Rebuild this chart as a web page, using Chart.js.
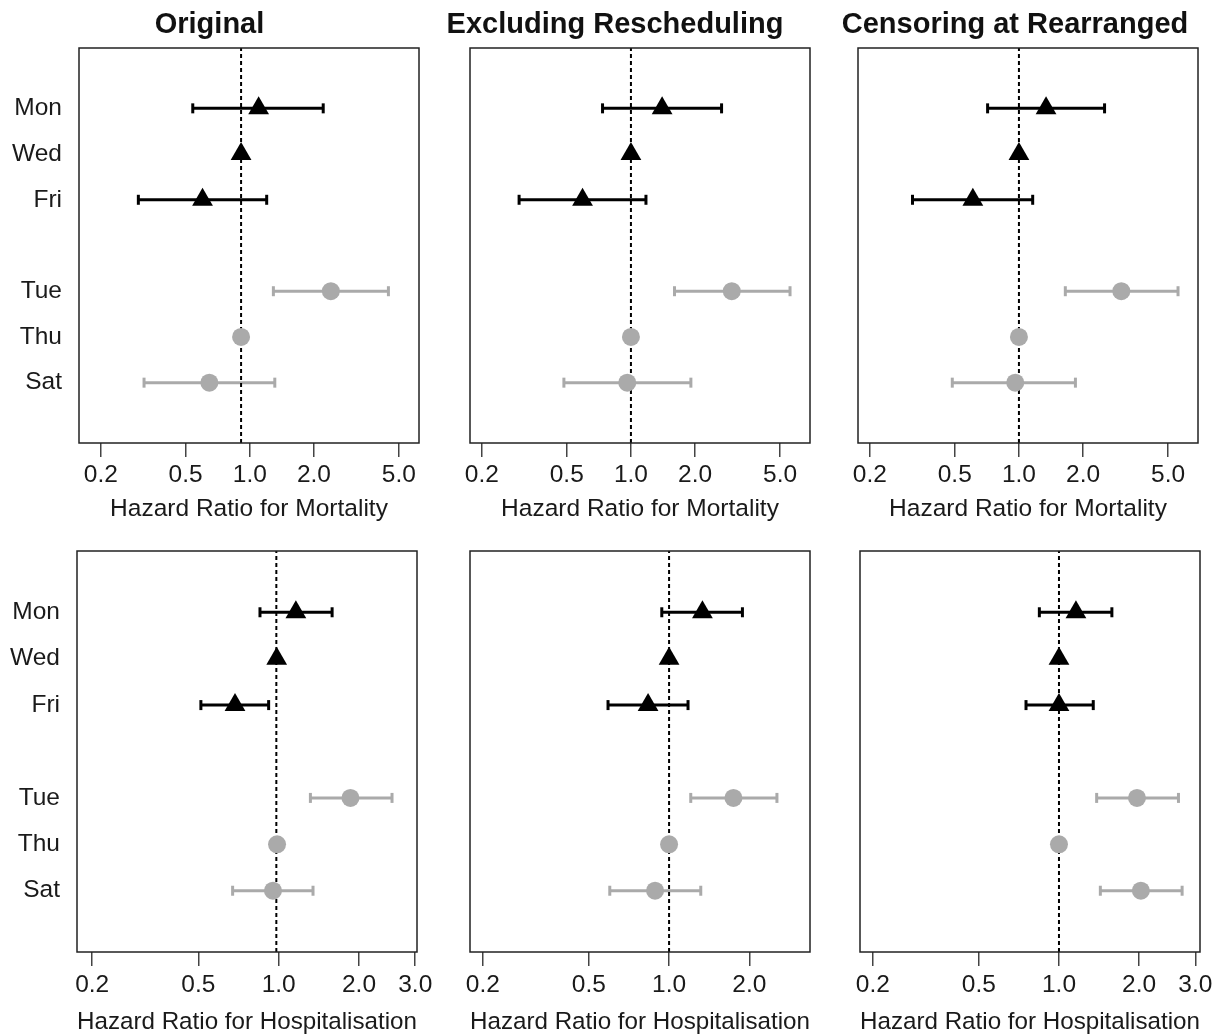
<!DOCTYPE html>
<html>
<head>
<meta charset="utf-8">
<script src="https://cdn.jsdelivr.net/npm/chart.js"></script>
<style>
  body { margin: 0; background: #fff; }
  #wrap { position: relative; width: 1224px; height: 1035px; overflow: hidden; background: #fff; }
  #wrap canvas { position: absolute; }
</style>
</head>
<body>
<div id="wrap">
  <canvas id="Chart1"></canvas>
  <canvas id="Chart2"></canvas>
  <canvas id="Chart3"></canvas>
  <canvas id="Chart4"></canvas>
  <canvas id="Chart5"></canvas>
  <canvas id="Chart6"></canvas>
</div>
<script>
const days = ["Mon", "Wed", "Fri", "Tue", "Thu", "Sat"];
const dayRows = [7, 6, 5, 3, 2, 1];
const dayGroup = ["tri", "tri", "tri", "dot", "dot", "dot"];

const columnTitles = ["Original", "Excluding Rescheduling", "Censoring at Rearranged"];
const mortalityTitle = "Hazard Ratio for Mortality";
const hospitalTitle = "Hazard Ratio for Hospitalisation";

const mortalityTicks = [0.2, 0.5, 1, 2, 5];
const mortalityTickLabels = ["0.2", "0.5", "1.0", "2.0", "5.0"];
const hospitalTicks = [0.2, 0.5, 1, 2, 3.25];
const hospitalTickLabels = ["0.2", "0.5", "1.0", "2.0", "3.0"];

// mortality
const mortOrigHR = [1.10, 0.91, 0.60, 2.40, 0.91, 0.646];
const mortOrigLo = [0.54, null, 0.30, 1.29, null, 0.319];
const mortOrigHi = [2.21, null, 1.20, 4.47, null, 1.31];

const mortExclHR = [1.40, 1.00, 0.593, 2.97, 1.00, 0.961];
const mortExclLo = [0.736, null, 0.299, 1.60, null, 0.485];
const mortExclHi = [2.66, null, 1.176, 5.57, null, 1.91];

const mortCensHR = [1.34, 1.00, 0.608, 3.02, 1.00, 0.961];
const mortCensLo = [0.713, null, 0.317, 1.65, null, 0.487];
const mortCensHi = [2.52, null, 1.16, 5.57, null, 1.84];

// hospitalisation
const hospOrigHR = [1.16, 0.983, 0.686, 1.858, 0.986, 0.952];
const hospOrigLo = [0.851, null, 0.511, 1.315, null, 0.672];
const hospOrigHi = [1.586, null, 0.917, 2.66, null, 1.345];

const hospExclHR = [1.334, 1.00, 0.834, 1.744, 1.00, 0.886];
const hospExclLo = [0.939, null, 0.590, 1.206, null, 0.599];
const hospExclHi = [1.885, null, 1.178, 2.54, null, 1.315];

const hospCensHR = [1.158, 1.00, 1.00, 1.963, 1.00, 2.03];
const hospCensLo = [0.844, null, 0.752, 1.385, null, 1.43];
const hospCensHi = [1.58, null, 1.345, 2.81, null, 2.90];

const refValues = [0.91, 1, 1, 0.98, 1, 1];
const axisMin = [0.158, 0.176, 0.176, 0.1754, 0.179, 0.179];
const axisMax = [6.22, 6.91, 6.91, 3.30, 3.38, 3.385];

const yMin = -0.32;
const yMax = 8.32;
const black = '#000000';
const gray = '#aaaaaa';
const textColor = '#1a1a1a';
const fontFamily = "'Liberation Sans', Arial, sans-serif";
const labelSize = 24.5;

// canvas placement and plot box for each panel
const panels = [
  { left: 0,   top: 0,   width: 498, height: 530, boxLeft: 79,  boxRight: 419 },
  { left: 420, top: 0,   width: 440, height: 530, boxLeft: 470, boxRight: 810 },
  { left: 832, top: 0,   width: 392, height: 530, boxLeft: 858, boxRight: 1198 },
  { left: 0,   top: 530, width: 494, height: 505, boxLeft: 77,  boxRight: 417 },
  { left: 420, top: 530, width: 440, height: 505, boxLeft: 470, boxRight: 810 },
  { left: 830, top: 530, width: 394, height: 505, boxLeft: 860, boxRight: 1200 }
];

const panelBox = {
  id: 'panelBox',
  afterDraw(chart) {
    const a = chart.chartArea;
    const ctx = chart.ctx;
    ctx.save();
    ctx.strokeStyle = '#222';
    ctx.lineWidth = 1.5;
    ctx.strokeRect(a.left, a.top, a.right - a.left, a.bottom - a.top);
    ctx.restore();
  }
};

function buildDatasets(hr, lo, hi, ref) {
  const sets = [];
  days.forEach((d, i) => {
    if (lo[i] == null) return;
    const color = dayGroup[i] === 'tri' ? black : gray;
    sets.push({
      type: 'line',
      showLine: true,
      data: [{ x: lo[i], y: dayRows[i] }, { x: hi[i], y: dayRows[i] }],
      borderColor: color,
      borderWidth: 3,
      pointStyle: 'line',
      pointRotation: 90,
      pointRadius: 5,
      pointHoverRadius: 5,
      pointBorderWidth: 3,
      pointBorderColor: color,
      order: 3
    });
  });
  // reference line
  sets.push({
    type: 'line',
    showLine: true,
    data: [{ x: ref, y: yMin }, { x: ref, y: yMax }],
    borderColor: black,
    borderWidth: 2,
    borderDash: [4, 3],
    pointRadius: 0,
    order: 2
  });
  const tri = [], dot = [];
  days.forEach((d, i) => {
    (dayGroup[i] === 'tri' ? tri : dot).push({ x: hr[i], y: dayRows[i] });
  });
  sets.push({ data: tri, pointStyle: 'triangle', pointRadius: 12, pointHoverRadius: 12, pointBackgroundColor: black, pointBorderWidth: 0, order: 1 });
  sets.push({ data: dot, pointStyle: 'circle', pointRadius: 9, pointHoverRadius: 9, pointBackgroundColor: gray, pointBorderWidth: 0, order: 1 });
  return sets;
}

function drawPanel(i, hr, lo, hi, tickVals, tickLabels) {
  const p = panels[i];
  const canvas = document.getElementById(`Chart${i + 1}`);
  canvas.width = p.width;
  canvas.height = p.height;
  canvas.style.left = p.left + 'px';
  canvas.style.top = p.top + 'px';
  const topRow = i < 3;
  const leftCol = i % 3 === 0;

  new Chart(canvas.getContext('2d'), {
    type: 'scatter',
    data: { datasets: buildDatasets(hr, lo, hi, refValues[i]) },
    options: {
      responsive: false,
      animation: false,
      events: [],
      layout: { padding: { top: topRow ? 0 : 21, right: (p.left + p.width) - p.boxRight, left: 0, bottom: 0 } },
      scales: {
        x: {
          type: 'logarithmic',
          min: axisMin[i],
          max: axisMax[i],
          afterBuildTicks: scale => { scale.ticks = tickVals.map(v => ({ value: v })); },
          afterFit: scale => { scale.height = topRow ? 87 : 83; },
          ticks: {
            autoSkip: false,
            maxRotation: 0,
            padding: topRow ? 3.5 : 4.5,
            color: textColor,
            font: { family: fontFamily, size: labelSize },
            callback: (v, idx) => tickLabels[idx]
          },
          grid: { display: true, drawOnChartArea: false, drawTicks: true, tickLength: 14, color: '#444', lineWidth: 1.5 },
          border: { display: false },
          title: {
            display: true,
            text: topRow ? mortalityTitle : hospitalTitle,
            color: textColor,
            font: { family: fontFamily, size: labelSize },
            padding: { top: 0, bottom: topRow ? 6.5 : -1.5 }
          }
        },
        y: {
          type: 'linear',
          min: yMin,
          max: yMax,
          afterBuildTicks: scale => { scale.ticks = dayRows.map(v => ({ value: v })); },
          afterFit: scale => {
            scale.width = p.boxLeft - p.left;
            scale.paddingTop = 0;
            scale.paddingBottom = 0;
          },
          ticks: {
            display: leftCol,
            padding: 17,
            color: textColor,
            font: { family: fontFamily, size: labelSize },
            callback: (v, idx) => days[idx]
          },
          grid: { display: false, drawTicks: false },
          border: { display: false }
        }
      },
      plugins: {
        legend: { display: false },
        tooltip: { enabled: false },
        title: {
          display: topRow,
          text: columnTitles[i % 3],
          color: '#111',
          font: { family: fontFamily, size: 29, weight: 'bold' },
          padding: { top: 8, bottom: 5.2 }
        }
      }
    },
    plugins: [panelBox]
  });
}

drawPanel(0, mortOrigHR, mortOrigLo, mortOrigHi, mortalityTicks, mortalityTickLabels);
drawPanel(1, mortExclHR, mortExclLo, mortExclHi, mortalityTicks, mortalityTickLabels);
drawPanel(2, mortCensHR, mortCensLo, mortCensHi, mortalityTicks, mortalityTickLabels);
drawPanel(3, hospOrigHR, hospOrigLo, hospOrigHi, hospitalTicks, hospitalTickLabels);
drawPanel(4, hospExclHR, hospExclLo, hospExclHi, hospitalTicks.slice(0, 4), hospitalTickLabels.slice(0, 4));
drawPanel(5, hospCensHR, hospCensLo, hospCensHi, hospitalTicks, hospitalTickLabels);
</script>
</body>
</html>
